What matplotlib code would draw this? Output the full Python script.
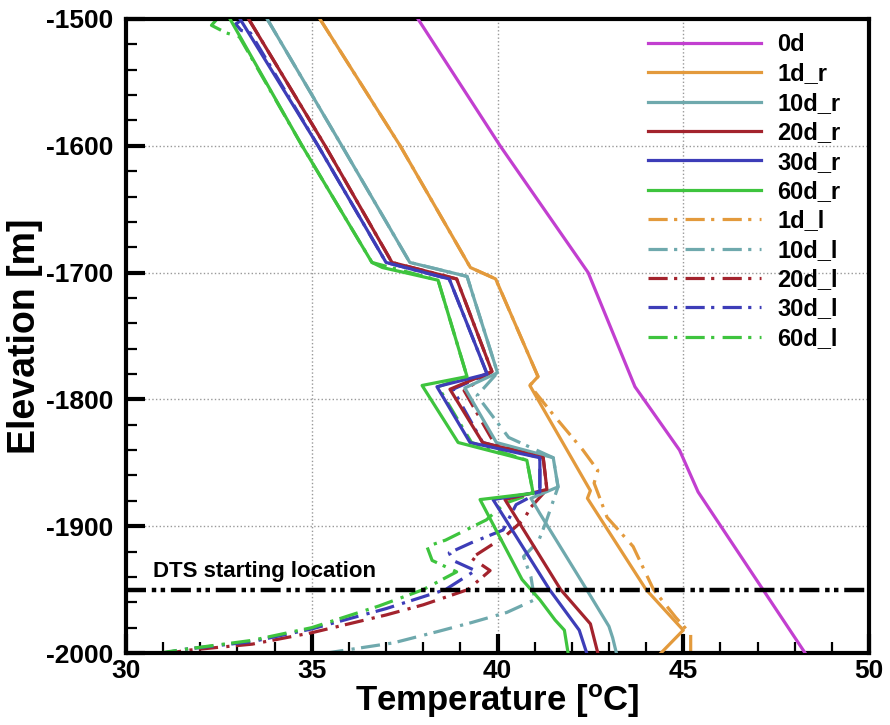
import matplotlib
matplotlib.use("Agg")
import matplotlib.pyplot as plt
from matplotlib.ticker import MultipleLocator

plt.rcParams['font.family'] = ['Liberation Sans', 'DejaVu Sans']
plt.rcParams['font.weight'] = 'bold'
plt.rcParams['axes.unicode_minus'] = False
plt.rcParams['mathtext.fontset'] = 'custom'
plt.rcParams['mathtext.rm'] = 'Liberation Sans:bold'
plt.rcParams['mathtext.it'] = 'Liberation Sans:bold'
plt.rcParams['mathtext.bf'] = 'Liberation Sans:bold'

# ---------------- data ----------------
labels = ['0d', '1d_r', '10d_r', '20d_r', '30d_r', '60d_r',
          '1d_l', '10d_l', '20d_l', '30d_l', '60d_l']

t_0d = [37.86, 40.07, 42.44, 43.7, 44.9, 45.4, 48.28]
e_0d = [-1500, -1600, -1700, -1790, -1840, -1873, -2000]

t_1d_r = [35.22, 37.38, 39.27, 39.95, 41.09, 40.87, 42.5, 42.42, 44.0, 45.0, 44.4]
e_1d_r = [-1500, -1600, -1696, -1705, -1782, -1789, -1872, -1878, -1950, -1982, -2000]

t_10d_r = [33.8, 35.81, 37.64, 39.18, 40.0, 39.12, 39.97, 41.5, 41.63, 40.9, 41.14, 42.4, 43.0, 43.1, 43.2]
e_10d_r = [-1500, -1600, -1692, -1703, -1779, -1791, -1834, -1846, -1869, -1878, -1890, -1950, -1979, -1988, -2000]

t_20d_r = [33.3, 35.36, 37.16, 38.9, 39.85, 38.72, 39.6, 41.23, 41.33, 40.2, 41.7, 42.5, 42.7]
e_20d_r = [-1500, -1600, -1692, -1705, -1778, -1792, -1834, -1846, -1871, -1879, -1950, -1977, -2000]

t_30d_r = [33.07, 35.17, 37.0, 38.7, 39.72, 38.37, 39.26, 41.14, 41.14, 39.88, 41.4, 42.2, 42.4]
e_30d_r = [-1500, -1600, -1692, -1705, -1780, -1790, -1834, -1846, -1873, -1879, -1950, -1982, -2000]

t_60d_r = [32.8, 34.74, 36.62, 36.9, 38.4, 39.18, 37.97, 38.94, 40.79, 40.96, 39.53, 40.66, 41.14, 41.55, 41.8, 41.9]
e_60d_r = [-1500, -1600, -1692, -1696, -1706, -1782, -1789, -1834, -1848, -1874, -1879, -1942, -1958, -1974, -1982, -2000]

t_1d_l = [35.22, 37.38, 39.27, 39.95, 41.09, 40.87, 41.5, 41.9, 42.3, 42.7, 42.6, 42.95, 43.65, 44.2, 44.8, 45.2, 45.2]
e_1d_l = [-1500, -1600, -1696, -1705, -1782, -1789, -1812, -1826, -1840, -1856, -1866, -1893, -1916, -1950, -1972, -1985, -2000]

t_10d_l = [33.8, 35.81, 37.64, 39.18, 40.0, 39.45, 40.3, 41.5, 41.63, 41.3, 41.1, 40.7, 40.9, 41.0, 40.25, 39.3, 38.4, 37.2, 35.4]
e_10d_l = [-1500, -1600, -1692, -1703, -1779, -1797, -1830, -1846, -1869, -1897, -1912, -1924, -1940, -1958, -1968, -1976, -1983, -1992, -2000]

t_20d_l = [33.3, 35.36, 37.16, 38.9, 39.85, 39.1, 39.9, 41.23, 41.33, 40.9, 40.7, 40.2, 39.3, 39.8, 39.2, 38.0, 37.0, 35.0, 33.4, 31.6, 31.2]
e_20d_l = [-1500, -1600, -1692, -1705, -1778, -1793, -1834, -1846, -1871, -1885, -1895, -1908, -1925, -1935, -1950, -1962, -1970, -1984, -1993, -1998, -2000]

t_30d_l = [33.15, 32.95, 33.1, 33.35, 35.17, 37.0, 38.7, 39.72, 38.8, 39.6, 41.14, 41.14, 40.5, 40.15, 39.3, 38.7, 38.8, 39.4, 38.6, 37.0, 35.0, 33.4, 31.6, 31.0]
e_30d_l = [-1500, -1504, -1509, -1511, -1600, -1692, -1705, -1780, -1792, -1834, -1846, -1873, -1883, -1903, -1913, -1921, -1927, -1935, -1950, -1965, -1981, -1991, -1997, -2000]

t_60d_l = [32.45, 32.3, 32.7, 33.05, 34.74, 36.62, 38.4, 39.18, 38.4, 39.3, 40.79, 40.96, 40.2, 39.7, 38.6, 38.1, 38.24, 38.9, 38.0, 36.8, 35.0, 33.4, 31.6, 30.9]
e_60d_l = [-1500, -1505, -1511, -1514, -1600, -1692, -1706, -1782, -1790, -1834, -1848, -1874, -1882, -1895, -1911, -1916, -1927, -1936, -1950, -1963, -1980, -1990, -1997, -2000]

dts_elevation = -1950
dts_label = 'DTS starting location'

x_ticks = [30, 35, 40, 45, 50]
y_ticks = [-1500, -1600, -1700, -1800, -1900, -2000]

# ---------------- style ----------------
c_mag = '#c23fd0'
c_org = '#e39a3c'
c_teal = '#6fa9ad'
c_red = '#a3232d'
c_blue = '#3d3db8'
c_green = '#3ec43e'
lw = 2.3
dashdot = (0, (6, 2.0, 1.0, 2.6))

fig = plt.figure(figsize=(8.9, 7.25), dpi=100)
ax = fig.add_axes([0.1416, 0.0993, 0.8348, 0.8745])

series_l = [(t_1d_l, e_1d_l, c_org), (t_10d_l, e_10d_l, c_teal),
            (t_20d_l, e_20d_l, c_red), (t_30d_l, e_30d_l, c_blue),
            (t_60d_l, e_60d_l, c_green)]
series_r = [(t_0d, e_0d, c_mag), (t_1d_r, e_1d_r, c_org),
            (t_10d_r, e_10d_r, c_teal), (t_20d_r, e_20d_r, c_red),
            (t_30d_r, e_30d_r, c_blue), (t_60d_r, e_60d_r, c_green)]

handles_l = []
for t, e, c in series_l:
    h, = ax.plot(t, e, color=c, lw=lw, linestyle=dashdot, zorder=2)
    handles_l.append(h)
handles_r = []
for t, e, c in series_r:
    h, = ax.plot(t, e, color=c, lw=lw, linestyle='-', zorder=3)
    handles_r.append(h)

ax.axhline(dts_elevation, color='black', lw=3.2,
           linestyle=(0, (4.5, 1.3, 1.0, 1.0, 1.0, 1.3)), zorder=5)
ax.text(30.73, -1940, dts_label, fontsize=16, fontweight='bold', ha='left',
        va='baseline', zorder=6)

ax.set_xlim(30, 50)
ax.set_ylim(-2000, -1500)
ax.set_xticks(x_ticks)
ax.set_yticks(y_ticks)
ax.xaxis.set_minor_locator(MultipleLocator(1))
ax.yaxis.set_minor_locator(MultipleLocator(20))
ax.tick_params(which='major', direction='in', length=14, width=3,
               labelsize=19, top=False, right=False)
ax.tick_params(which='minor', direction='in', length=8, width=1.6,
               top=False, right=False)
ax.tick_params(axis='y', which='major', pad=9)
ax.tick_params(axis='x', which='major', pad=4)
for lab in ax.get_xticklabels() + ax.get_yticklabels():
    lab.set_fontweight('bold')
for sp in ax.spines.values():
    sp.set_linewidth(3)

ax.grid(True, which='major', linestyle=':', color='#999999', lw=1.0)
ax.set_axisbelow(True)

ax.set_xlabel(r'Temperature [$^{\mathrm{o}}$C]', fontsize=25, fontweight='bold', labelpad=0)
ax.set_ylabel('Elevation [m]', fontsize=27, fontweight='bold', labelpad=2)

handles = handles_r + handles_l
leg = ax.legend(handles, labels, loc='upper left',
                bbox_to_anchor=(0.683, 1.0), frameon=False, fontsize=17,
                handlelength=4.8, handletextpad=0.7, labelspacing=0.27,
                borderaxespad=0.2)
for txt in leg.get_texts():
    txt.set_fontweight('bold')

fig.savefig('out.png', dpi=100)
